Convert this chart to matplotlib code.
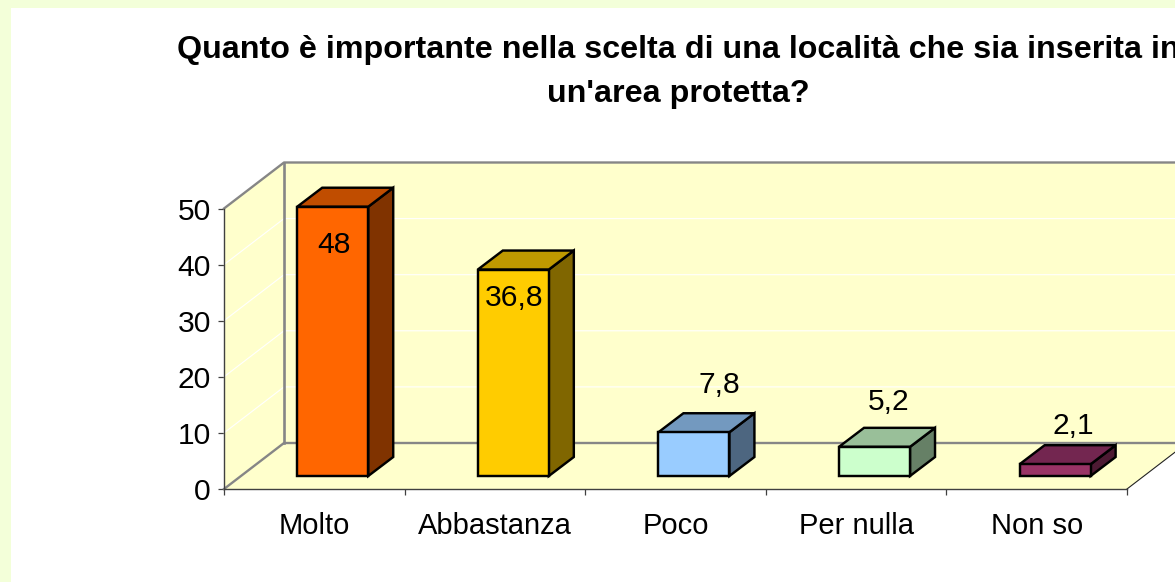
import matplotlib
matplotlib.use("Agg")
import matplotlib.pyplot as plt
from matplotlib.patches import Rectangle

# Data
categories = ["Molto", "Abbastanza", "Poco", "Per nulla", "Non so"]
values = [48, 36.8, 7.8, 5.2, 2.1]
value_labels = ["48", "36,8", "7,8", "5,2", "2,1"]
y_ticks = [0, 10, 20, 30, 40, 50]
title = "Quanto è importante nella scelta di una località che sia inserita in\nun'area protetta?"

# Styles
front_colors = ["#FF6600", "#FFCC00", "#99CCFF", "#CCFFCC", "#993366"]
top_colors = ["#C04D00", "#BF9900", "#7399BF", "#99BF99", "#732650"]
side_colors = ["#803300", "#806600", "#4D6680", "#668066", "#4D1A33"]
label_offsets_px = [(1, -25), (1, -15), (25, 60), (14, 58), (18, 51)]

W, H = 1175, 582
L, R, B, T = 224, 1127, 489, 208.5
PX_X = (R - L) / 5
PX_Y = (B - T) / 50
# Oblique depth expressed in data units
WALL_DX, WALL_DY = 60 / PX_X, 46 / PX_Y
BAR_X0, BAR_Y0 = 0.102, 13 / PX_Y
BAR_W = 71 / PX_X
BAR_DX, BAR_DY = 25 / PX_X, 19 / PX_Y
XMAX, YMAX = 5, 50
FS = 21.6
LW = 1.75

plt.rcParams["font.family"] = ["Liberation Sans", "DejaVu Sans"]
fig = plt.figure(figsize=(W / 100, H / 100), dpi=100, facecolor="#F3FFD9")
fig.add_artist(Rectangle((11 / W, 0), 1, 1 - 8 / H, transform=fig.transFigure,
                         facecolor="white", edgecolor="none", zorder=-10))

ax = fig.add_axes([L / W, 1 - B / H, (R - L) / W, (B - T) / H])
ax.patch.set_visible(False)
ax.set_xlim(0, XMAX)
ax.set_ylim(0, YMAX)

WALL = "#FFFFCC"
GRAY = "#868686"
# Walls and floor
ax.fill([0, WALL_DX, WALL_DX, 0], [0, WALL_DY, YMAX + WALL_DY, YMAX],
        color=WALL, lw=0, clip_on=False, zorder=1)
ax.fill([WALL_DX, XMAX + WALL_DX, XMAX + WALL_DX, WALL_DX],
        [WALL_DY, WALL_DY, YMAX + WALL_DY, YMAX + WALL_DY],
        color=WALL, lw=0, clip_on=False, zorder=1)
ax.fill([0, XMAX, XMAX + WALL_DX, WALL_DX], [0, 0, WALL_DY, WALL_DY],
        color=WALL, lw=0, clip_on=False, zorder=1)

# Gridlines on both walls
for v in y_ticks[1:-1]:
    ax.plot([0, WALL_DX, XMAX + WALL_DX], [v, v + WALL_DY, v + WALL_DY],
            color="white", lw=0.8, clip_on=False, zorder=2)

# Wall outlines
ax.plot([0, WALL_DX, XMAX + WALL_DX], [YMAX, YMAX + WALL_DY, YMAX + WALL_DY],
        color=GRAY, lw=1.7, clip_on=False, zorder=3)
ax.plot([WALL_DX, WALL_DX], [WALL_DY, YMAX + WALL_DY],
        color=GRAY, lw=1.9, clip_on=False, zorder=3)
ax.plot([0, WALL_DX, XMAX + WALL_DX], [0, WALL_DY, WALL_DY],
        color=GRAY, lw=1.7, clip_on=False, zorder=3)
ax.plot([XMAX, XMAX + WALL_DX], [0, WALL_DY],
        color="#222222", lw=0.8, clip_on=False, zorder=3)

# Bars
for i, v in enumerate(values):
    x0 = i + BAR_X0 + (1 - BAR_W) / 2
    x1 = x0 + BAR_W
    y0 = BAR_Y0
    y1 = BAR_Y0 + v
    ax.fill([x1, x1 + BAR_DX, x1 + BAR_DX, x1],
            [y0, y0 + BAR_DY, y1 + BAR_DY, y1],
            facecolor=side_colors[i], edgecolor="black", lw=LW,
            joinstyle="miter", clip_on=False, zorder=4)
    ax.fill([x0, x1, x1 + BAR_DX, x0 + BAR_DX],
            [y1, y1, y1 + BAR_DY, y1 + BAR_DY],
            facecolor=top_colors[i], edgecolor="black", lw=LW,
            joinstyle="miter", clip_on=False, zorder=4)
    ax.bar(x0, v, width=BAR_W, bottom=y0, align="edge",
           facecolor=front_colors[i], edgecolor="black", lw=LW,
           clip_on=False, zorder=5)
    ax.annotate(value_labels[i], xy=((x0 + x1) / 2, v),
                xytext=(label_offsets_px[i][0] * 0.72, label_offsets_px[i][1] * 0.72),
                textcoords="offset points", ha="center", va="center",
                fontsize=FS, color="black", zorder=6, annotation_clip=False)

# Axes
for s in ("top", "right"):
    ax.spines[s].set_visible(False)
for s in ("left", "bottom"):
    ax.spines[s].set_color("#404040")
    ax.spines[s].set_linewidth(1.0)
    ax.spines[s].set_zorder(7)
ax.set_yticks(y_ticks)
ax.tick_params(axis="y", length=4.5, width=0.9, color="#404040", pad=5,
               labelsize=FS, labelcolor="black")
ax.set_xticks(range(len(categories) + 1))
ax.set_xticklabels([])
ax.set_xticks([i + 0.5 for i in range(len(categories))], minor=True)
ax.set_xticklabels(categories, minor=True)
ax.tick_params(axis="x", which="major", length=4.5, width=0.9, color="#404040")
ax.tick_params(axis="x", which="minor", length=0, pad=16.5,
               labelsize=21, labelcolor="black")

fig.text(678 / W, 1 - 72 / H, title, ha="center", va="center", fontsize=23.2,
         fontweight="bold", color="black", linespacing=1.65)

fig.savefig("out.png", dpi=100, facecolor=fig.get_facecolor())
